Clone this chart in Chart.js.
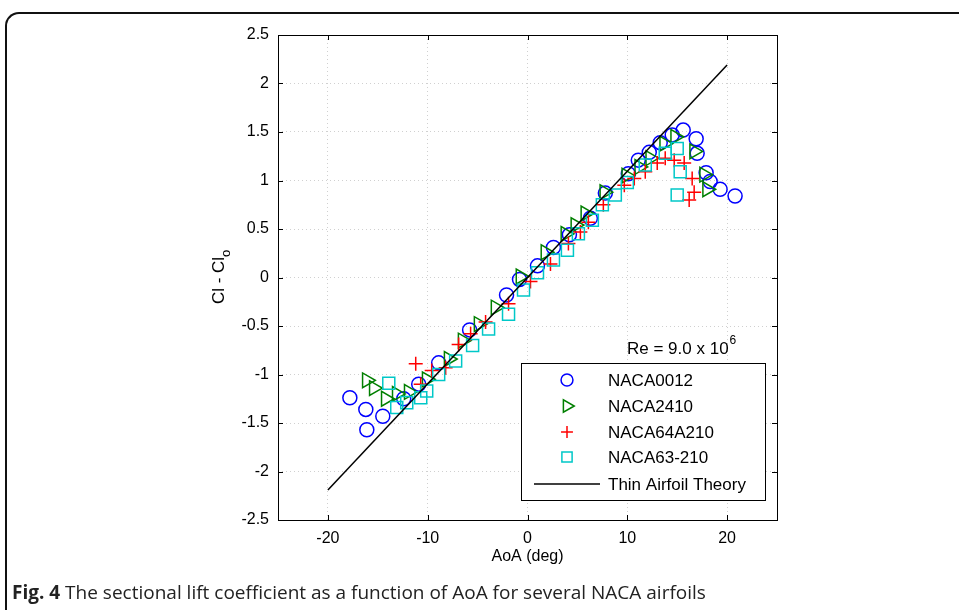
<!DOCTYPE html>
<html>
<head>
<meta charset="utf-8">
<script src="https://cdn.jsdelivr.net/npm/chart.js@4.4.0/dist/chart.umd.min.js"></script>
<style>
  html, body { margin: 0; padding: 0; background: #fff; }
  #wrap { position: relative; width: 959px; height: 610px; overflow: hidden; }
  #frame { position: absolute; left: 5px; top: 12px; width: 1000px; height: 700px;
           border-top: 2px solid #111; border-left: 2px solid #111; border-top-left-radius: 14px; }
  #cv { position: absolute; left: 0; top: 0; }
  #caption { position: absolute; left: 12px; top: 579px; font-family: "Open Sans", sans-serif;
             font-size: 19px; color: #222; white-space: nowrap; }
</style>
</head>
<body>
<div id="wrap">
  <div id="frame"></div>
  <canvas id="cv" width="959" height="610"></canvas>
  <div id="caption"><b>Fig. 4</b> The sectional lift coefficient as a function of AoA for several NACA airfoils</div>
</div>
<script>
// values (AoA in deg, Cl - Cl0)
const naca0012X = [-17.8, -16.2, -16.1, -14.5, -12.4, -10.9, -8.9, -5.8, -2.1, -0.8, 1.0, 2.6, 4.2, 6.3, 7.8, 10.1, 11.1, 12.2, 13.3, 14.5, 15.6, 16.9, 17.0, 17.9, 18.3, 19.3, 20.8];
const naca0012Y = [-1.24, -1.36, -1.57, -1.43, -1.25, -1.10, -0.88, -0.54, -0.18, -0.02, 0.12, 0.31, 0.44, 0.61, 0.87, 1.07, 1.21, 1.29, 1.39, 1.47, 1.52, 1.43, 1.28, 1.08, 0.99, 0.91, 0.84];

const naca2410X = [-16.1, -15.4, -14.2, -13.1, -11.9, -10.1, -7.9, -6.5, -4.9, -3.2, -0.7, 1.8, 3.8, 4.8, 5.8, 7.7, 9.9, 11.2, 12.3, 13.7, 14.8, 16.7, 17.7, 18.0];
const naca2410Y = [-1.06, -1.14, -1.25, -1.20, -1.18, -1.05, -0.84, -0.65, -0.48, -0.31, 0.01, 0.26, 0.45, 0.54, 0.66, 0.88, 1.05, 1.14, 1.23, 1.38, 1.45, 1.30, 1.06, 0.91];

const naca64X = [-11.2, -10.7, -9.6, -8.2, -6.9, -5.7, -4.2, -1.9, 0.3, 2.3, 4.1, 5.3, 6.1, 7.6, 9.7, 10.7, 11.8, 13.0, 13.8, 14.7, 15.7, 16.5, 16.7, 16.2];
const naca64Y = [-0.89, -1.10, -0.96, -0.93, -0.69, -0.58, -0.46, -0.27, -0.04, 0.14, 0.35, 0.47, 0.57, 0.75, 0.95, 1.02, 1.09, 1.18, 1.23, 1.21, 1.18, 1.02, 0.88, 0.80];

const naca63X = [-13.9, -13.1, -12.1, -10.7, -10.1, -8.9, -7.2, -5.5, -3.9, -1.9, -0.4, 1.0, 2.6, 4.0, 5.1, 6.5, 7.5, 8.8, 10.0, 11.8, 13.8, 15.0, 15.3, 15.0];
const naca63Y = [-1.09, -1.34, -1.29, -1.24, -1.17, -1.00, -0.86, -0.70, -0.53, -0.38, -0.13, 0.05, 0.18, 0.28, 0.45, 0.59, 0.75, 0.85, 0.98, 1.16, 1.28, 1.33, 1.09, 0.85];

const theoryX = [-20, 20];
const theoryY = [-2.19, 2.19];

const xTicks = [-20, -10, 0, 10, 20];
const yTicks = [-2.5, -2, -1.5, -1, -0.5, 0, 0.5, 1, 1.5, 2, 2.5];
const seriesNames = ["NACA0012", "NACA2410", "NACA64A210", "NACA63-210", "Thin Airfoil Theory"];

const FONT = "'Liberation Sans', Arial, sans-serif";
Chart.defaults.font.family = FONT;
Chart.defaults.color = "#000";

function pts(xs, ys) {
  return xs.map((x, i) => ({ x: x, y: ys[i] }));
}

var datasets = [
  { label: seriesNames[0], data: pts(naca0012X, naca0012Y), pointStyle: "circle", pointRadius: 7,
    borderColor: "#0000ff", backgroundColor: "rgba(0,0,0,0)", pointBorderWidth: 1.5, order: 5 },
  { label: seriesNames[1], data: pts(naca2410X, naca2410Y), pointStyle: "triangle", pointRotation: 90, pointRadius: 8.5,
    borderColor: "#007f00", backgroundColor: "rgba(0,0,0,0)", pointBorderWidth: 1.5, order: 4 },
  { label: seriesNames[2], data: pts(naca64X, naca64Y), pointStyle: "cross", pointRadius: 7,
    borderColor: "#ff0000", backgroundColor: "rgba(0,0,0,0)", pointBorderWidth: 1.5, order: 3 },
  { label: seriesNames[3], data: pts(naca63X, naca63Y), pointStyle: "rect", pointRadius: 8.5,
    borderColor: "#00c8c8", backgroundColor: "rgba(0,0,0,0)", pointBorderWidth: 1.5, order: 2 },
  { label: seriesNames[4], data: pts(theoryX, theoryY), showLine: true, pointRadius: 0,
    borderColor: "#000", borderWidth: 1.5, order: 1 },
];

// frame, inward ticks, legend box and annotations in the matlab style
const matlabBits = {
  id: "matlabBits",
  afterDraw: function (chart) {
    const ctx = chart.ctx;
    const a = chart.chartArea;
    const xs = chart.scales.x, ys = chart.scales.y;
    ctx.save();
    ctx.strokeStyle = "#000";
    ctx.lineWidth = 1;
    ctx.strokeRect(a.left + 0.5, a.top + 0.5, a.right - a.left, a.bottom - a.top);
    ctx.beginPath();
    xTicks.forEach(function (v) {
      const px = Math.round(xs.getPixelForValue(v)) + 0.5;
      ctx.moveTo(px, a.bottom); ctx.lineTo(px, a.bottom - 5);
      ctx.moveTo(px, a.top); ctx.lineTo(px, a.top + 5);
    });
    yTicks.forEach(function (v) {
      const py = Math.round(ys.getPixelForValue(v)) + 0.5;
      ctx.moveTo(a.left, py); ctx.lineTo(a.left + 5, py);
      ctx.moveTo(a.right, py); ctx.lineTo(a.right - 5, py);
    });
    ctx.stroke();

    // axis titles
    ctx.fillStyle = "#000";
    ctx.font = "16px " + FONT;
    ctx.textAlign = "center";
    ctx.textBaseline = "middle";
    ctx.fillText("AoA (deg)", (a.left + a.right) / 2, 557);

    ctx.save();
    ctx.translate(219, (a.top + a.bottom) / 2);
    ctx.rotate(-Math.PI / 2);
    ctx.font = "17px " + FONT;
    const main = "Cl - Cl";
    const w = ctx.measureText(main).width;
    ctx.textAlign = "left";
    ctx.fillText(main, -w / 2 - 3, 0);
    ctx.font = "13px " + FONT;
    ctx.fillText("o", w / 2 - 3, 7);
    ctx.restore();

    // Re annotation
    ctx.textAlign = "left";
    ctx.textBaseline = "alphabetic";
    ctx.font = "17px " + FONT;
    const re = "Re = 9.0 x 10";
    ctx.fillText(re, 627, 354);
    const rw = ctx.measureText(re).width;
    ctx.font = "12px " + FONT;
    ctx.fillText("6", 627 + rw + 1, 344);

    // legend
    const lx = 521, ly = 363, lw = 244, lh = 137;
    ctx.fillStyle = "#fff";
    ctx.fillRect(lx, ly, lw, lh);
    ctx.strokeStyle = "#000";
    ctx.lineWidth = 1;
    ctx.strokeRect(lx + 0.5, ly + 0.5, lw, lh);
    const rows = [380, 406, 432, 457, 484];
    chart.data.datasets.forEach(function (ds, i) {
      const yy = rows[i];
      ctx.strokeStyle = ds.borderColor;
      ctx.fillStyle = "rgba(0,0,0,0)";
      if (ds.showLine) {
        ctx.lineWidth = 1.5;
        ctx.beginPath();
        ctx.moveTo(534, yy); ctx.lineTo(600, yy);
        ctx.stroke();
      } else {
        ctx.lineWidth = ds.pointBorderWidth;
        Chart.helpers.drawPoint(ctx, {
          pointStyle: ds.pointStyle, radius: ds.pointRadius * 0.85,
          rotation: ds.pointRotation || 0, borderWidth: ds.pointBorderWidth
        }, 567, yy);
      }
      ctx.fillStyle = "#000";
      ctx.font = "17px " + FONT;
      ctx.textBaseline = "middle";
      ctx.fillText(ds.label, 608, yy + 1);
    });
    ctx.restore();
  },
};

new Chart(document.getElementById("cv").getContext("2d"), {
  type: "scatter",
  data: { datasets: datasets },
  options: {
    responsive: false,
    animation: false,
    layout: { padding: { left: 200, right: 182, top: 35, bottom: 40 } },
    plugins: { legend: { display: false }, tooltip: { enabled: false } },
    scales: {
      x: {
        type: "linear", min: -25, max: 25,
        afterBuildTicks: function (scale) { scale.ticks = xTicks.map(v => ({ value: v })); },
        afterFit: function (scale) { scale.height = 50; },
        grid: { color: "#d0d0d0", drawTicks: false, lineWidth: 1 },
        border: { display: false, dash: [1, 3] },
        ticks: { font: { size: 16 }, color: "#000", padding: 9, callback: v => String(v) },
      },
      y: {
        type: "linear", min: -2.5, max: 2.5,
        afterBuildTicks: function (scale) { scale.ticks = yTicks.map(v => ({ value: v })); },
        afterFit: function (scale) { scale.width = 78; },
        grid: { color: "#d0d0d0", drawTicks: false, lineWidth: 1 },
        border: { display: false, dash: [1, 3] },
        ticks: { font: { size: 16 }, color: "#000", padding: 9, callback: v => String(v) },
      },
    },
  },
  plugins: [matlabBits],
});
</script>
</body>
</html>
